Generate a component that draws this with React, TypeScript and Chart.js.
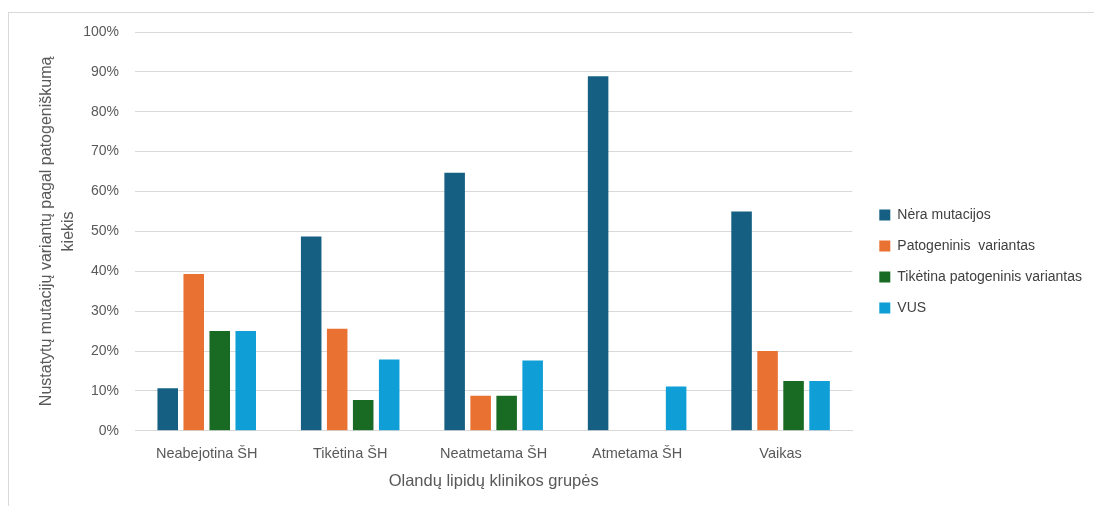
import React, { useEffect, useRef } from "react";
import { Chart, registerables } from "chart.js";

Chart.register(...registerables);

const categories = ["Neabejotina ŠH", "Tikėtina ŠH", "Neatmetama ŠH", "Atmetama ŠH", "Vaikas"];
const neraMutacijos = [10.7, 48.7, 64.7, 88.9, 55.0];
const patogeninis = [39.3, 25.6, 8.8, 0, 20.0];
const tiketinaPatogeninis = [25.0, 7.7, 8.8, 0, 12.5];
const vus = [25.0, 17.9, 17.6, 11.1, 12.5];
const yTicks = [0, 10, 20, 30, 40, 50, 60, 70, 80, 90, 100];

const FONT = "'Liberation Sans', Arial, sans-serif";
const GREY = "#595959";

export default function App() {
  const ref = useRef<HTMLCanvasElement>(null);
  useEffect(() => {
    if (!ref.current) return;
    const chart = new Chart(ref.current, {
      type: "bar",
      data: {
        labels: categories,
        datasets: [
          { label: "Nėra mutacijos", data: neraMutacijos, backgroundColor: "#156082" },
          { label: "Patogeninis  variantas", data: patogeninis, backgroundColor: "#E97132" },
          { label: "Tikėtina patogeninis variantas", data: tiketinaPatogeninis, backgroundColor: "#196B24" },
          { label: "VUS", data: vus, backgroundColor: "#0F9ED5" },
        ],
      },
      options: {
        responsive: false,
        animation: false,
        datasets: { bar: { categoryPercentage: 0.725, barPercentage: 0.79 } },
        layout: { padding: { left: 26, top: 19, right: 2, bottom: 15 } },
        plugins: {
          tooltip: { enabled: false },
          legend: {
            position: "right",
            maxWidth: 232,
            labels: {
              boxWidth: 11,
              boxHeight: 11,
              padding: 17,
              color: "#404040",
              font: { family: FONT, size: 14 },
            },
          },
        },
        scales: {
          x: {
            grid: { display: false },
            border: { display: true, color: "#d9d9d9" },
            ticks: { color: GREY, font: { family: FONT, size: 14.5 }, padding: 6 },
            title: {
              display: true,
              text: "Olandų lipidų klinikos grupės",
              color: GREY,
              font: { family: FONT, size: 16.5 },
              padding: { top: 3, bottom: 0 },
            },
          },
          y: {
            min: 0,
            max: 100,
            afterBuildTicks: (s: any) => {
              s.ticks = yTicks.map((v) => ({ value: v }));
            },
            afterFit: (s: any) => {
              s.width = 100;
              s.paddingTop = 0;
              s.paddingBottom = 0;
            },
            grid: { color: "#d9d9d9", drawTicks: false },
            border: { display: false },
            ticks: {
              color: GREY,
              font: { family: FONT, size: 14 },
              padding: 16,
              callback: (v: any) => v + "%",
            },
            title: {
              display: true,
              text: ["Nustatytų mutacijų variantų pagal patogeniškumą", "kiekis"],
              color: GREY,
              font: { family: FONT, size: 16, lineHeight: 1.4 },
              padding: { top: 0, bottom: 4 },
            },
          },
          yR: {
            type: "linear",
            position: "right",
            grid: { display: false },
            border: { display: false },
            ticks: { display: false },
            afterFit: (s: any) => {
              s.width = 10;
            },
          },
        },
      } as any,
    });
    return () => chart.destroy();
  }, []);
  return (
    <div
      style={{
        position: "absolute",
        left: 8,
        top: 12,
        width: 1086,
        height: 494,
        borderLeft: "1px solid #d9d9d9",
        borderTop: "1px solid #d9d9d9",
        background: "#fff",
        overflow: "hidden",
      }}
    >
      <canvas ref={ref} width={1085} height={493} style={{ display: "block" }} />
    </div>
  );
}
